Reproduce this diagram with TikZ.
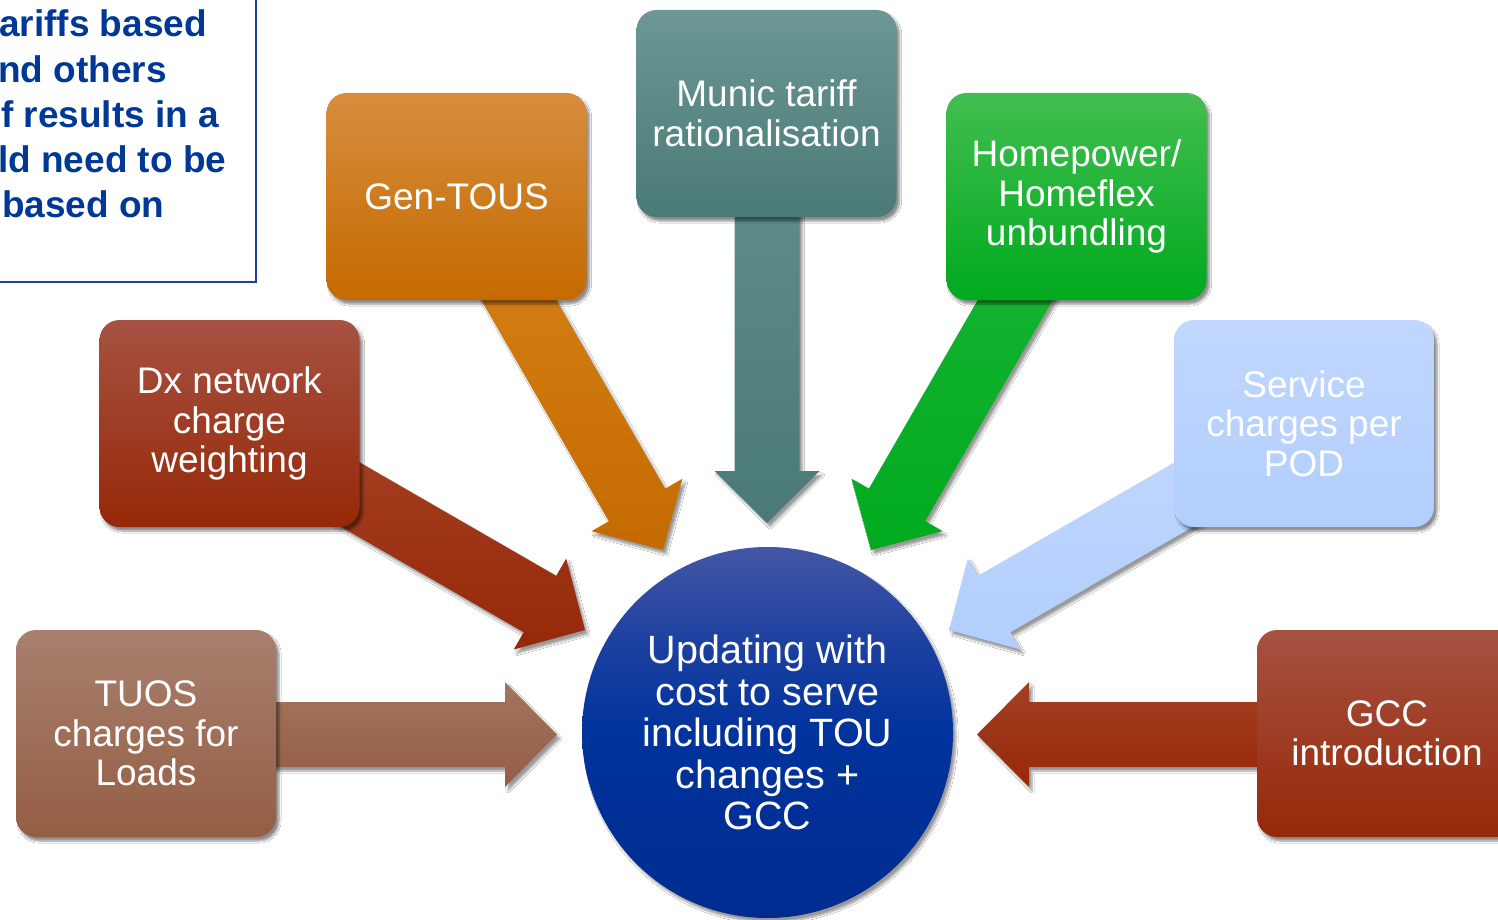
\documentclass[tikz,border=0pt]{standalone}
\usepackage{fontspec}
\setmainfont{Liberation Sans}
\usetikzlibrary{calc,shadows.blur}

\definecolor{orTop}{RGB}{216,141,62}
\definecolor{orBot}{RGB}{196,106,0}
\definecolor{orArTop}{RGB}{212,128,22}
\definecolor{teTop}{RGB}{108,151,148}
\definecolor{teBot}{RGB}{74,122,119}
\definecolor{teArTop}{RGB}{96,142,140}
\definecolor{grTop}{RGB}{66,190,80}
\definecolor{grBot}{RGB}{0,170,30}
\definecolor{grArTop}{RGB}{22,180,50}
\definecolor{rdTop}{RGB}{166,82,66}
\definecolor{rdBot}{RGB}{150,40,8}
\definecolor{rdArTop}{RGB}{164,64,34}
\definecolor{ltTop}{RGB}{192,215,255}
\definecolor{ltBot}{RGB}{178,206,252}
\definecolor{brTop}{RGB}{168,128,110}
\definecolor{brBot}{RGB}{148,94,68}
\definecolor{brArTop}{RGB}{162,116,94}
\definecolor{hubTop}{RGB}{68,86,164}
\definecolor{hubUp}{RGB}{28,64,160}
\definecolor{hubMid}{RGB}{0,51,156}
\definecolor{hubBot}{RGB}{0,44,144}
\definecolor{noteblue}{RGB}{0,56,150}
\definecolor{noteline}{RGB}{30,64,156}

\pgfdeclareverticalshading{hubshade}{100bp}{color(0bp)=(hubBot); color(25bp)=(hubBot);
  color(50bp)=(hubMid); color(62bp)=(hubUp); color(75bp)=(hubTop); color(100bp)=(hubTop)}

\newcommand\blockarrow[3]{%
  \coordinate (H) at ($(#2)!52pt!(#1)$);
  \path[arr,#3] (#2)
    -- ($(H)!52.5pt!90:(#1)$)
    -- ($(H)!32.5pt!90:(#1)$)
    -- ($(#1)!32.5pt!-90:(H)$)
    -- ($(#1)!32.5pt!90:(H)$)
    -- ($(H)!32.5pt!-90:(#1)$)
    -- ($(H)!52.5pt!-90:(#1)$)
    -- cycle;
}

\begin{document}
\begin{tikzpicture}[x=1pt,y=-1pt,
  box/.style={rounded corners=20pt, minimum width=260pt, minimum height=207pt,
    align=center, text=white, font=\fontsize{37}{39.5}\selectfont, inner sep=0pt,
    blur shadow={shadow xshift=3pt, shadow yshift=-4pt, shadow blur steps=6, shadow opacity=45}},
  arr/.style={blur shadow={shadow xshift=3pt, shadow yshift=-4pt, shadow blur steps=5, shadow opacity=40}},
  note/.style={anchor=base west, inner sep=0pt, text=noteblue, font=\bfseries\fontsize{37}{45}\selectfont}]
\useasboundingbox (0,0) rectangle (1498,920);
\clip (0,0) rectangle (1498,920);
\fill[white] (0,0) rectangle (1498,920);

% note box (cut off at top left)
\draw[noteline, line width=2pt] (-10,-10) rectangle (256,282);
\node[note] (n1) at (-1,37) {ariffs based};
\node[note] (n2) at (-2,83) {nd others};
\node[note] (n3) at (1,128) {f results in a};
\node[note] (n4) at (-2,173) {ld need to be};
\node[note] (n5) at (2,218) {based on};

% arrow end points
\coordinate (sTe) at (767,150);   \coordinate (tTe) at (767,523);
\coordinate (sOr) at (498,264);   \coordinate (tOr) at (663,550);
\coordinate (sGr) at (1036,264);  \coordinate (tGr) at (871,550);
\coordinate (sDx) at (299,465);   \coordinate (tDx) at (585,630);
\coordinate (sSv) at (1235,465);  \coordinate (tSv) at (949,630);
\coordinate (sTu) at (200,734.5); \coordinate (tTu) at (557,734.5);
\coordinate (sGc) at (1330,734.5);\coordinate (tGc) at (977,734.5);

% arrows
\blockarrow{sTe}{tTe}{top color=teArTop, bottom color=teBot}
\blockarrow{sOr}{tOr}{top color=orArTop, bottom color=orBot}
\blockarrow{sGr}{tGr}{top color=grArTop, bottom color=grBot}
\blockarrow{sDx}{tDx}{top color=rdArTop, bottom color=rdBot}
\blockarrow{sSv}{tSv}{top color=ltTop, bottom color=ltBot}
\blockarrow{sTu}{tTu}{top color=brArTop, bottom color=brBot}
\blockarrow{sGc}{tGc}{top color=rdArTop, bottom color=rdBot}

% boxes
\node[box, top color=orTop, bottom color=orBot] (gen) at (456.5,196.5) {Gen-TOUS};
\node[box, top color=teTop, bottom color=teBot] (munic) at (766.5,113.5) {Munic tariff\\rationalisation};
\node[box, top color=grTop, bottom color=grBot] (home) at (1076.5,196.5) {Homepower/\\Homeflex\\unbundling};
\node[box, top color=rdTop, bottom color=rdBot] (dx) at (229.5,423.5) {Dx network\\charge\\weighting};
\node[box, top color=ltTop, bottom color=ltBot] (serv) at (1304,423.5) {Service\\charges per\\POD};
\node[box, top color=brTop, bottom color=brBot] (tuos) at (146,733.5) {TUOS\\charges for\\Loads};
\node[box, top color=rdTop, bottom color=rdBot] (gcc) at (1387,733.5) {GCC\\introduction};

% hub
\node[circle, minimum size=371pt, inner sep=0pt, shading=hubshade,
  text=white, align=center, font=\fontsize{39.5}{41.5}\selectfont,
  blur shadow={shadow xshift=3pt, shadow yshift=-4pt, shadow blur steps=6, shadow opacity=40}]
  (hub) at (767.5,732.5) {Updating with\\cost to serve\\including TOU\\changes +\\GCC};
\end{tikzpicture}
\end{document}
